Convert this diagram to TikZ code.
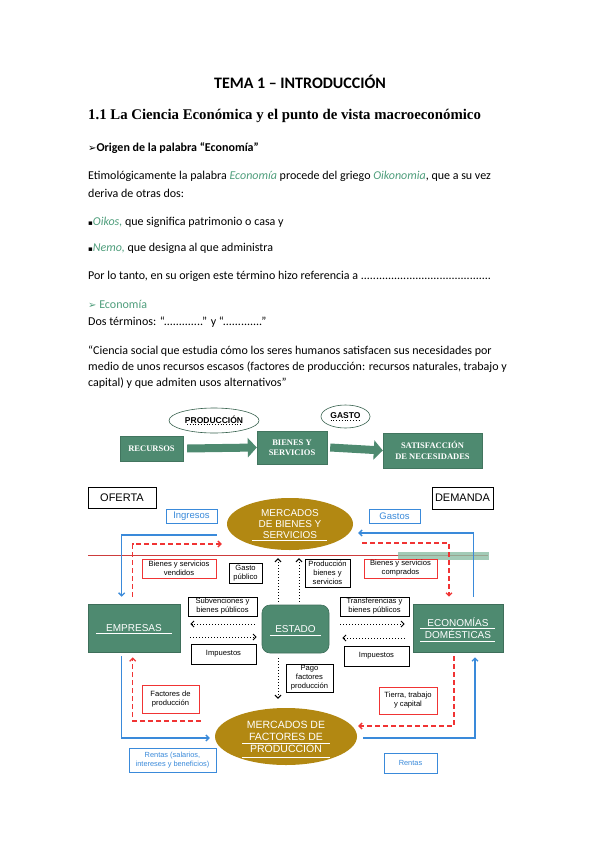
\documentclass[tikz,border=0pt]{standalone}
\usepackage{fontspec}
\setmainfont{Carlito}
\newfontfamily\arialf{Liberation Sans}
\newfontfamily\serift{Liberation Serif}
\newfontfamily\simbolos{DejaVu Sans}
\usetikzlibrary{arrows.meta, shapes.geometric, calc}
\definecolor{VerdeCaja}{RGB}{78,138,112}
\definecolor{VerdeTexto}{RGB}{79,158,124}
\definecolor{Oro}{RGB}{178,136,18}
\definecolor{AzulFlujo}{RGB}{58,138,218}
\definecolor{RojoFlujo}{RGB}{240,52,52}
\definecolor{RojoLinea}{RGB}{205,60,60}
\definecolor{VerdeClaro}{RGB}{140,190,165}
\newcommand{\palabra}[1]{\textcolor{VerdeTexto}{\textit{#1}}}
\newcommand{\flecha}{{\simbolos\fontsize{10}{12}\selectfont ➢}}
\newcommand{\vineta}{{\simbolos\fontsize{7}{8}\selectfont ▪}}

\begin{document}
\begin{tikzpicture}[x=1pt, y=-1pt,
    texto/.style={anchor=base west, inner sep=0pt, font=\fontsize{12}{14}\selectfont},
    bloque/.style={fill=VerdeCaja, draw=VerdeCaja!85!black, text=white, align=center, inner sep=0pt,
        font=\serift\bfseries\fontsize{8.5}{10.5}\selectfont},
    paso/.style={VerdeCaja, line width=8pt, -{Triangle[length=9pt, width=19pt]}},
    nube/.style={ellipse, draw=VerdeCaja!70!black, fill=white, inner sep=0pt, line width=0.6pt,
        font=\arialf\bfseries\fontsize{8.5}{10}\selectfont},
    caja/.style={draw=black, line width=0.8pt, fill=white, align=center, inner sep=0pt,
        font=\arialf\fontsize{7.6}{9}\selectfont},
    cajaroja/.style={caja, draw=RojoFlujo},
    cajaazul/.style={caja, draw=AzulFlujo, text=AzulFlujo},
    sector/.style={fill=VerdeCaja, draw=VerdeCaja!80!black, line width=0.6pt, text=white, align=center,
        inner sep=0pt, minimum height=48, font=\arialf\fontsize{10}{11.5}\selectfont},
    mercado/.style={ellipse, fill=Oro, text=white, align=center, inner sep=0pt},
    flujoazul/.style={AzulFlujo, line width=1.3pt, -{Straight Barb[length=3pt, width=6pt]}},
    flujorojo/.style={RojoFlujo, line width=1.3pt, dash pattern=on 5pt off 3pt, -{Straight Barb[length=3pt, width=6pt]}},
    flujoestado/.style={black, line width=1pt, dotted, -{Straight Barb[length=3pt, width=6pt]}},
    subrayado/.style={white, line width=0.6pt}]

\useasboundingbox (0,0) rectangle (599,848);
\fill[white] (0,0) rectangle (599,848);

% texto
\node[texto, anchor=base, font=\bfseries\fontsize{16}{19}\selectfont] (tema) at (300,89) {TEMA 1 – INTRODUCCIÓN};
\node[texto, font=\serift\bfseries\fontsize{14.8}{17}\selectfont] (apartado) at (88,120)
    {1.1 La Ciencia Económica y el punto de vista macroeconómico};
\node[texto, font=\bfseries\fontsize{12}{14}\selectfont] (origen) at (88,151) {\flecha Origen de la palabra “Economía”};
\node[texto] (etim) at (88,179) {Etimológicamente la palabra \palabra{Economía} procede del griego \palabra{Oikonomia}, que a su vez};
\node[texto] (deriva) at (88,197) {deriva de otras dos:};
\node[texto] (oikos) at (88,225) {\vineta\palabra{Oikos,} que significa patrimonio o casa y};
\node[texto] (nemo) at (88,251) {\vineta\palabra{Nemo,} que designa al que administra};
\node[texto] (portanto) at (88,279) {Por lo tanto, en su origen este término hizo referencia a ...........................................};
\node[texto, text=VerdeTexto] (economia) at (88,308) {\flecha\ Economía};
\node[texto] (terminos) at (88,325) {Dos términos: “.............” y “.............”};
\node[texto] (cita1) at (88,354) {“Ciencia social que estudia cómo los seres humanos satisfacen sus necesidades por};
\node[texto] (cita2) at (88,370) {medio de unos recursos escasos (factores de producción: recursos naturales, trabajo y};
\node[texto] (cita3) at (88,386) {capital) y que admiten usos alternativos”};

% flujo superior
\node[bloque, minimum width=63, minimum height=25] (recursos) at (151.5,448.5) {RECURSOS};
\node[bloque, minimum width=70, minimum height=33] (bienes) at (292,447.5) {BIENES Y\\SERVICIOS};
\node[bloque, minimum width=99, minimum height=35] (satis) at (432.5,450.5) {SATISFACCIÓN\\DE NECESIDADES};
\draw[paso] ([xshift=4]recursos.east) -- (bienes.west);
\draw[paso] ([xshift=3]bienes.east) -- (satis.west);
\node[nube, minimum width=90, minimum height=25] (produccion) at (214,420.5) {\raisebox{2pt}{PRODUCCIÓN}};
\node[nube, minimum width=49, minimum height=23] (gasto) at (345.5,416.5) {\raisebox{2pt}{GASTO}};
\draw[dotted, line width=0.8pt] ([shift={(-27,4)}]produccion.center) -- ([shift={(27,4)}]produccion.center);
\draw[dotted, line width=0.8pt] ([shift={(-15,4)}]gasto.center) -- ([shift={(15,4)}]gasto.center);

% flujo circular
\node[caja, minimum width=68, minimum height=21, font=\arialf\fontsize{11}{13}\selectfont] (oferta) at (122,497.5) {OFERTA};
\node[caja, minimum width=61, minimum height=22, font=\arialf\fontsize{11}{13}\selectfont] (demanda) at (462.5,498) {DEMANDA};
\node[cajaazul, minimum width=51, minimum height=14, font=\arialf\fontsize{9.5}{11}\selectfont] (ingresos) at (191.5,516) {Ingresos};
\node[cajaazul, minimum width=51, minimum height=14, font=\arialf\fontsize{9.5}{11}\selectfont] (gastos) at (394.5,516) {Gastos};

\node[mercado, minimum width=126, minimum height=52, font=\arialf\fontsize{10}{11}\selectfont] (mbs) at (290,524)
    {MERCADOS\\DE BIENES Y\\SERVICIOS};
\draw[subrayado] ([shift={(-38,16)}]mbs.center) -- ([shift={(37,16)}]mbs.center);

\draw[RojoLinea, line width=0.8pt] (88,555) -- (488,555);
\fill[VerdeClaro, opacity=0.8] (398,552) rectangle (489,560);

\node[cajaroja, minimum width=74, minimum height=19] (vendidos) at (179,568.5) {Bienes y servicios\\vendidos};
\node[caja, minimum width=33, minimum height=20] (gastopub) at (245.5,573) {Gasto\\público};
\node[caja, minimum width=45, minimum height=28] (prodbs) at (327.5,573) {Producción\\bienes y\\servicios};
\node[cajaroja, minimum width=73, minimum height=19] (comprados) at (400.5,568.5) {Bienes y servicios\\comprados};

\node[sector, minimum width=92] (empresas) at (134,628) {EMPRESAS};
\node[sector, minimum width=67, rounded corners=8pt] (estado) at (295.5,629) {ESTADO};
\node[sector, minimum width=90] (hogares) at (458,628) {ECONOMÍAS\\DOMÉSTICAS};
\draw[subrayado] ([shift={(-38,5)}]empresas.center) -- ([shift={(38,5)}]empresas.center);
\draw[subrayado] ([shift={(-25.5,6)}]estado.center) -- ([shift={(25.5,6)}]estado.center);
\draw[subrayado] ([shift={(-38,0)}]hogares.center) -- ([shift={(37,0)}]hogares.center);
\draw[subrayado] ([shift={(-38,13)}]hogares.center) -- ([shift={(37,13)}]hogares.center);

\node[caja, minimum width=69, minimum height=19] (subv) at (222.5,606.5) {Subvenciones y\\bienes públicos};
\node[caja, minimum width=65, minimum height=20] (impizq) at (223.5,654) {Impuestos};
\node[caja, minimum width=69, minimum height=19] (transf) at (374.5,606.5) {Transferencias y\\bienes públicos};
\node[caja, minimum width=65, minimum height=20] (impder) at (376.5,656) {Impuestos};
\node[caja, minimum width=47, minimum height=28] (pagofp) at (309.5,678) {Pago\\factores\\producción};
\node[cajaroja, minimum width=57, minimum height=28] (factores) at (170.5,699) {Factores de\\producción};
\node[cajaroja, minimum width=58, minimum height=27] (tierra) at (408,700.5) {Tierra, trabajo\\y capital};

\node[mercado, minimum width=142, minimum height=57, font=\arialf\fontsize{10.5}{12}\selectfont] (mfp) at (286,736.5)
    {MERCADOS DE\\FACTORES DE\\PRODUCCIÓN};
\draw[subrayado] ([shift={(-44,6.5)}]mfp.center) -- ([shift={(44,6.5)}]mfp.center);
\draw[subrayado] ([shift={(-44,20.5)}]mfp.center) -- ([shift={(44,20.5)}]mfp.center);

\node[cajaazul, minimum width=87, minimum height=24, font=\arialf\fontsize{7.4}{9}\selectfont] (rentasemp) at (172.5,760)
    {Rentas (salarios,\\intereses y beneficios)};
\node[cajaazul, minimum width=53, minimum height=20, font=\arialf\fontsize{7.4}{9}\selectfont] (rentashog) at (410.5,763) {Rentas};

% flujos reales y monetarios
\draw[flujoazul] ([shift={(-10,11)}]mbs.west) -| ([shift={(34,-7)}]empresas.north west);
\draw[flujorojo] ([shift={(45,-7)}]empresas.north west) |- ([shift={(-5,20)}]mbs.west);
\draw[flujoazul] ([shift={(-30,-7)}]hogares.north east) |- ([shift={(5,9)}]mbs.east);
\draw[flujorojo] ([shift={(9,19)}]mbs.east) -| ([shift={(-9,-7)}]hogares.north);
\draw[flujorojo] ([shift={(-14,-15.5)}]mfp.west) -| ([shift={(45,5)}]empresas.south west);
\draw[flujoazul] ([shift={(34,4)}]empresas.south west) |- ([shift={(-5,1.5)}]mfp.west);
\draw[flujorojo] ([shift={(-4,4)}]hogares.south) |- ([shift={(1,-10.5)}]mfp.east);
\draw[flujoazul] ([shift={(6,1.5)}]mfp.east) -| ([shift={(17,5)}]hogares.south);

% estado
\draw[flujoestado] ([shift={(-17.5,-3)}]estado.north) -- ([shift={(-12,8)}]mbs.south);
\draw[flujoestado] ([shift={(3.5,-3)}]estado.north) -- ([shift={(9,8)}]mbs.south);
\draw[flujoestado] ([shift={(-7,-5)}]estado.west) -- ([shift={(10,-4)}]empresas.east);
\draw[flujoestado] ([shift={(10,9)}]empresas.east) -- ([shift={(-5,8)}]estado.west);
\draw[flujoestado] ([shift={(11,-5)}]estado.east) -- ([shift={(-8,-4)}]hogares.west);
\draw[flujoestado] ([shift={(-8,10)}]hogares.west) -- ([shift={(13,9)}]estado.east);
\draw[flujoestado] ([shift={(-17.5,5)}]estado.south) -- ([shift={(-8,-9)}]mfp.north);

\end{tikzpicture}
\end{document}
